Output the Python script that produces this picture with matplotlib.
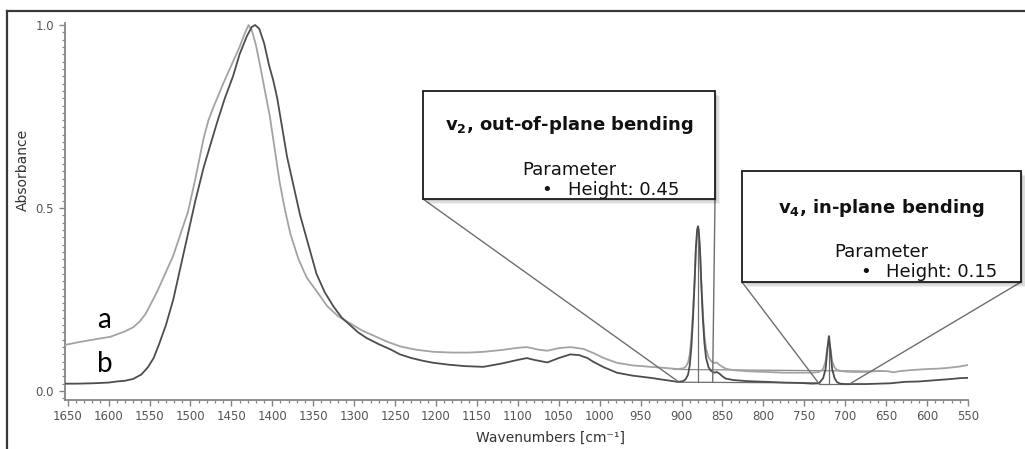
import matplotlib
matplotlib.use("Agg")
import matplotlib.pyplot as plt
from matplotlib.patches import Rectangle, ConnectionPatch
from matplotlib.ticker import MultipleLocator, FormatStrFormatter
from matplotlib.transforms import Affine2D

# ---------------------------------------------------------------- data
# spectrum a (light trace)
wn_a = [1653, 1640, 1620, 1598, 1580, 1570, 1562, 1555, 1548, 1541, 1531, 1521,
        1512, 1503, 1494, 1484, 1478, 1472, 1460, 1448, 1440, 1434, 1429, 1425,
        1420, 1415, 1409, 1403, 1397, 1391, 1385, 1378, 1368, 1358, 1345, 1333,
        1320, 1305, 1290, 1275, 1260, 1244, 1225, 1203, 1180, 1160, 1142, 1120,
        1100, 1089, 1075, 1064, 1050, 1036, 1020, 1008, 995, 979, 960, 938, 920,
        905, 898, 895, 892, 890, 888, 886, 884, 882.5, 881, 880, 879, 877.5, 876,
        874, 872, 870, 867, 864, 860, 857, 854, 850, 846, 837, 820, 796, 775,
        755, 740, 732, 727, 724, 722, 720, 718, 716, 713, 710, 706, 700, 690,
        674, 660, 648, 641, 634, 620, 600, 587, 575, 560, 550]
abs_a = [0.126, 0.132, 0.140, 0.148, 0.163, 0.174, 0.190, 0.210, 0.240, 0.270,
         0.320, 0.370, 0.430, 0.490, 0.580, 0.690, 0.740, 0.775, 0.840, 0.900,
         0.940, 0.975, 1.000, 0.985, 0.945, 0.890, 0.820, 0.750, 0.660, 0.570,
         0.500, 0.430, 0.360, 0.310, 0.270, 0.232, 0.205, 0.185, 0.165, 0.150,
         0.135, 0.122, 0.113, 0.107, 0.105, 0.105, 0.107, 0.112, 0.118, 0.120,
         0.113, 0.110, 0.117, 0.120, 0.115, 0.104, 0.090, 0.077, 0.070, 0.066,
         0.063, 0.060, 0.062, 0.066, 0.078, 0.100, 0.145, 0.215, 0.305, 0.385,
         0.425, 0.435, 0.425, 0.385, 0.305, 0.215, 0.150, 0.115, 0.092, 0.082,
         0.076, 0.078, 0.072, 0.066, 0.061, 0.057, 0.054, 0.052, 0.050, 0.050,
         0.050, 0.052, 0.060, 0.082, 0.115, 0.140, 0.115, 0.082, 0.064, 0.058,
         0.055, 0.053, 0.052, 0.052, 0.055, 0.054, 0.051, 0.054, 0.057, 0.060,
         0.061, 0.063, 0.067, 0.071]

# spectrum b (dark trace)
wn_b = [1653, 1640, 1620, 1600, 1590, 1580, 1570, 1560, 1552, 1545, 1538, 1530,
        1521, 1512, 1503, 1494, 1484, 1476, 1468, 1458, 1448, 1440, 1431, 1425,
        1421, 1416, 1410, 1404, 1399, 1394, 1388, 1382, 1374, 1366, 1356, 1346,
        1336, 1325, 1315, 1305, 1295, 1285, 1270, 1255, 1244, 1230, 1215, 1203,
        1185, 1165, 1142, 1120, 1100, 1089, 1080, 1064, 1050, 1036, 1025, 1015,
        1008, 995, 979, 960, 938, 920, 905, 898, 895, 892, 890, 888, 886, 884,
        882.5, 881, 880, 879, 877.5, 876, 874, 872, 870, 867, 864, 860, 857, 854,
        850, 846, 837, 820, 796, 775, 755, 740, 732, 727, 724, 722, 720, 718,
        716, 713, 710, 706, 700, 690, 674, 660, 645, 627, 610, 587, 575, 560, 550]
abs_b = [0.020, 0.020, 0.021, 0.023, 0.026, 0.028, 0.033, 0.045, 0.065, 0.090,
         0.130, 0.180, 0.250, 0.340, 0.430, 0.520, 0.610, 0.670, 0.730, 0.800,
         0.860, 0.920, 0.970, 0.995, 1.000, 0.990, 0.950, 0.890, 0.850, 0.800,
         0.720, 0.640, 0.560, 0.480, 0.400, 0.320, 0.270, 0.230, 0.200, 0.180,
         0.160, 0.145, 0.128, 0.113, 0.100, 0.090, 0.082, 0.077, 0.072, 0.068,
         0.066, 0.075, 0.085, 0.090, 0.085, 0.078, 0.090, 0.100, 0.098, 0.090,
         0.080, 0.065, 0.050, 0.042, 0.036, 0.030, 0.025, 0.027, 0.032, 0.045,
         0.070, 0.120, 0.200, 0.300, 0.390, 0.440, 0.450, 0.440, 0.390, 0.300,
         0.200, 0.130, 0.090, 0.065, 0.055, 0.050, 0.052, 0.048, 0.040, 0.034,
         0.030, 0.027, 0.025, 0.023, 0.022, 0.020, 0.021, 0.035, 0.060, 0.110,
         0.150, 0.110, 0.060, 0.035, 0.024, 0.020, 0.019, 0.019, 0.019, 0.020,
         0.021, 0.025, 0.026, 0.030, 0.032, 0.035, 0.036]

# fitted bands: position, baseline limits, height
band_pos = [880, 720]
band_base_left = [904, 732]
band_base_right = [731, 694]
band_base_level = [0.024, 0.020]
band_heights = [0.45, 0.15]
band_titles = [r"v$_\mathbf{2}$, out-of-plane bending", r"v$_\mathbf{4}$, in-plane bending"]
band_param = "Parameter"
band_labels = ["Height: 0.45", "Height: 0.15"]

x_ticks = list(range(1650, 549, -50))
y_ticks = [0.0, 0.5, 1.0]

# ---------------------------------------------------------------- figure
W, H = 1025, 449
fig = plt.figure(figsize=(W / 100, H / 100), dpi=100)
fig.patch.set_facecolor("white")
px = Affine2D().scale(1 / W, -1 / H).translate(0, 1) + fig.transFigure

ax = fig.add_axes([65 / W, 49 / H, 903 / W, 377 / H])
ax.set_xlim(1653.3, 550)
ax.set_ylim(-0.0246, 1.0055)

light, dark = "#a3a3a3", "#4d4d4d"
ax.plot(wn_a, abs_a, color=light, lw=1.3, zorder=3)
ax.plot(wn_b, abs_b, color=dark, lw=1.3, zorder=4)

# integration baselines and band markers
guide = "#6e6e6e"
ax.plot([910, 655], [0.059, 0.054], color="#8a8a8a", lw=0.9, zorder=2)
ax.plot([band_base_left[0], band_base_right[0]], [0.024, 0.022],
        color=guide, lw=0.9, zorder=2)
ax.plot([band_base_left[1], band_base_right[1]], [band_base_level[1]] * 2,
        color=guide, lw=0.9, zorder=2)
for pos, lev, h in zip(band_pos, band_base_level, band_heights):
    ax.plot([pos, pos], [lev, h], color=guide, lw=0.9, zorder=2)

for s in ("top", "right"):
    ax.spines[s].set_visible(False)
for s in ("left", "bottom"):
    ax.spines[s].set_color("#858585")
    ax.spines[s].set_linewidth(1.3)

ax.set_xticks(x_ticks)
ax.set_yticks(y_ticks)
ax.yaxis.set_major_formatter(FormatStrFormatter("%.1f"))
ax.xaxis.set_minor_locator(MultipleLocator(10))
ax.yaxis.set_minor_locator(MultipleLocator(0.02))
ax.tick_params(which="major", direction="out", length=4, width=1.0,
               color="#858585", labelsize=8.5, labelcolor="#555555")
ax.tick_params(which="minor", direction="out", length=2.5, width=0.9,
               color="#858585")
ax.tick_params(axis="x", pad=3.5)
ax.tick_params(axis="y", pad=4)

fig.text(23 / W, 1 - 170 / H, "Absorbance", rotation=90, ha="center",
         va="center", fontsize=10, color="#333333")
fig.text(476 / W, 1 - 442 / H, "Wavenumbers [cm⁻¹]", ha="left",
         va="baseline", fontsize=10, color="#333333")

# trace labels
fig.text(104 / W, 1 - 328 / H, "a", ha="center", va="baseline",
         fontsize=20, family="Lato", color="black")
fig.text(105 / W, 1 - 372 / H, "b", ha="center", va="baseline",
         fontsize=20, family="Lato", color="black")

# frame around the figure (left and top edges)
fig.add_artist(plt.Line2D([6.7, 6.7], [449, 11], transform=px,
                          color="#383838", lw=1.6))
fig.add_artist(plt.Line2D([6.7, 1025], [11, 11], transform=px,
                          color="#383838", lw=1.6))

# ---------------------------------------------------------------- callouts
boxes = [(423, 91, 715, 199), (742, 171, 1021, 282)]
title_y = [130, 213]
param_y = [175, 257]
label_y = [194.5, 277]
bullet_x = [547, 866]
label_x = [568, 886]
leaders = [[((423, 199), (903, 0.024)), ((715, 199), (862, 0.025))],
           [((742, 282), (732, 0.020)), ((1021, 282), (694, 0.020))]]

for i, (x0, y0, x1, y1) in enumerate(boxes):
    for (pa, pb) in leaders[i]:
        con = ConnectionPatch(xyA=pa, coordsA=px, xyB=pb, coordsB=ax.transData,
                              color=guide, lw=1.0, zorder=5)
        fig.add_artist(con)
    for off, a in ((5, 0.06), (3.5, 0.08), (2, 0.10)):
        fig.add_artist(Rectangle((x0 + off, y0 + off), x1 - x0, y1 - y0,
                                 transform=px, facecolor="black", alpha=a,
                                 edgecolor="none", zorder=6))
    fig.add_artist(Rectangle((x0, y0), x1 - x0, y1 - y0, transform=px,
                             facecolor="white", edgecolor="#1a1a1a", lw=1.3,
                             zorder=7))
    cx = (x0 + x1) / 2
    fig.text(cx / W, 1 - title_y[i] / H, band_titles[i], ha="center",
             va="baseline", fontsize=13, fontweight="bold", color="#111111",
             zorder=8)
    fig.text(cx / W, 1 - param_y[i] / H, band_param, ha="center",
             va="baseline", fontsize=13, color="#111111", zorder=8)
    fig.text(bullet_x[i] / W, 1 - label_y[i] / H, "•", ha="center",
             va="baseline", fontsize=13, color="#111111", zorder=8)
    fig.text(label_x[i] / W, 1 - label_y[i] / H, band_labels[i], ha="left",
             va="baseline", fontsize=13, color="#111111", zorder=8)

fig.savefig("out.png", dpi=100, facecolor="white")
